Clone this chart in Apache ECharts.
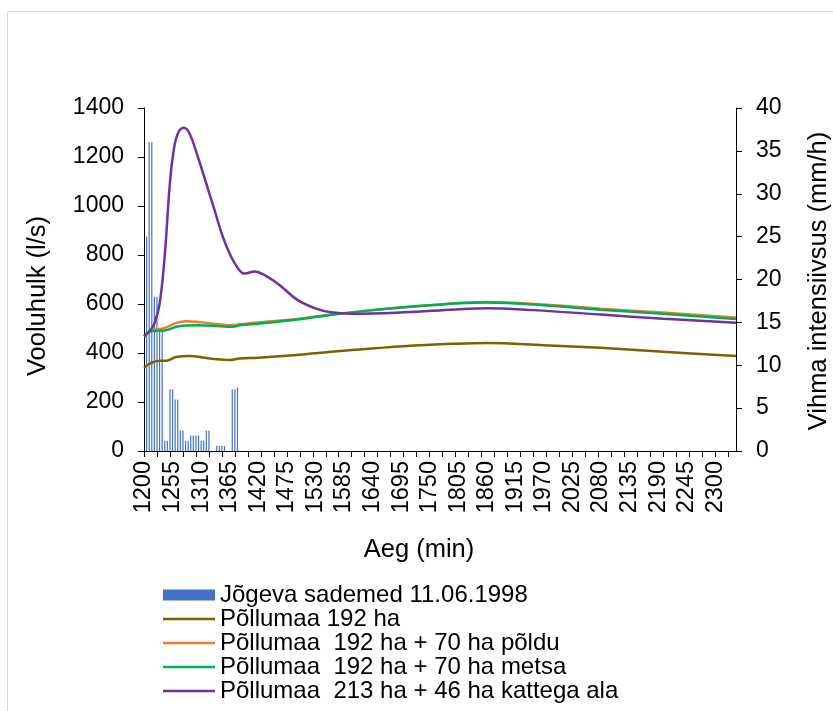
<!DOCTYPE html>
<html>
<head>
<meta charset="utf-8">
<script src="https://cdn.jsdelivr.net/npm/echarts@6/dist/echarts.min.js"></script>
<style>
html,body{margin:0;padding:0;background:#fff;}
#chart{width:833px;height:711px;}
</style>
</head>
<body>
<div id="chart"></div>
<script>
// ---- data ----
var timeStart = 1200, timeEnd = 2340, timeStep = 5;
var categories = [];
for (var t = timeStart; t <= timeEnd; t += timeStep) categories.push(String(t));

// rainfall intensity (mm/h), one value per 5-min category from 1200
var rainfall = [0, 25, 36, 36, 18, 18, 14, 14, 1.2, 1.2, 7.2, 7.2, 6, 6, 2.4, 2.4, 1.2, 1.2,
  1.8, 1.8, 1.8, 1.8, 1.2, 1.2, 2.4, 2.4, 0, 0, 0.6, 0.6, 0.6, 0.6, 0, 0, 7.2, 7.2, 7.4];

// discharge lines (l/s), read at sampled times
var brownTimes  = [1200, 1211, 1230, 1243, 1262, 1288, 1313, 1336, 1365, 1384, 1420, 1500, 1600, 1700, 1800, 1860, 1970, 2079, 2200, 2340];
var brownValues = [340, 357, 368, 368, 384, 388, 382, 375, 371, 378, 381, 393, 412, 428, 438, 441, 432, 421, 405, 388];

var orangeTimes  = [1200, 1210, 1217, 1240, 1262, 1281, 1304, 1346, 1371, 1384, 1423, 1500, 1558, 1640, 1750, 1860, 1970, 2079, 2200, 2340];
var orangeValues = [469, 486, 493, 502, 523, 530, 527, 517, 513, 517, 526, 540, 556, 575, 595, 608, 598, 581, 565, 545];

var greenTimes  = [1200, 1210, 1217, 1240, 1262, 1281, 1304, 1346, 1371, 1384, 1423, 1500, 1558, 1640, 1750, 1860, 1970, 2079, 2200, 2340];
var greenValues = [469, 486, 490, 492, 507, 512, 513, 509, 507, 513, 520, 538, 555, 575, 595, 606, 595, 577, 560, 539];

var purpleTimes  = [1200, 1210, 1220, 1230, 1240, 1249, 1256, 1265, 1277, 1288, 1304, 1320, 1336, 1352, 1368, 1384, 1394, 1413, 1433, 1462, 1494, 1530, 1560, 1600, 1700, 1800, 1860, 1950, 2079, 2200, 2340];
var purpleValues = [469, 487, 520, 600, 800, 1070, 1210, 1295, 1319, 1295, 1199, 1091, 982, 873, 792, 737, 724, 733, 717, 676, 619, 582, 566, 560, 566, 578, 583, 575, 557, 540, 523];

var seriesNames = ['Jõgeva sademed 11.06.1998', 'Põllumaa 192 ha', 'Põllumaa  192 ha + 70 ha põldu', 'Põllumaa  192 ha + 70 ha metsa', 'Põllumaa  213 ha + 46 ha kattega ala'];
var xTitle = 'Aeg (min)';
var yLeftTitle = 'Vooluhulk (l/s)';
var yRightTitle = 'Vihma intensiivsus (mm/h)';

function pairs(ts, vs) { return ts.map(function (t, i) { return [t, vs[i]]; }); }

var FONT = 'Liberation Sans, Arial, sans-serif';
var LINE_ICON = 'path://M0,0H52V2.5H0Z';
var chart = echarts.init(document.getElementById('chart'), null, {renderer: 'canvas'});
function lineSeries(name, ts, vs, color) {
  return {
    name: name, type: 'line', xAxisIndex: 1, yAxisIndex: 0,
    data: pairs(ts, vs), smooth: 0.4, symbol: 'none', showSymbol: false,
    lineStyle: {color: color, width: 2.5}, itemStyle: {color: color},
    animation: false
  };
}
function titleText(text, x, y, rot) {
  return {
    type: 'text', x: x, y: y, rotation: rot, silent: true,
    style: {text: text, fontFamily: FONT, fontSize: 25.5, fill: '#000', align: 'center', verticalAlign: 'middle'}
  };
}
chart.setOption({
  animation: false,
  textStyle: {fontFamily: FONT, color: '#000'},
  graphic: [{
    type: 'rect', shape: {x: 7.5, y: 11.5, width: 900, height: 800},
    style: {fill: 'none', stroke: '#d9d9d9', lineWidth: 1}, silent: true, z: -10
  },
    titleText(xTitle, 419, 550, 0),
    titleText(yLeftTitle, 38, 296, Math.PI / 2),
    titleText(yRightTitle, 819, 281, Math.PI / 2)
  ],
  grid: {left: 144, right: 97, top: 108, bottom: 260, containLabel: false},
  legend: {
    orient: 'vertical', left: 158, top: 578, padding: 5, itemWidth: 52, itemHeight: 11, itemGap: 0,
    symbolKeepAspect: true,
    textStyle: {fontFamily: FONT, fontSize: 24, color: '#000', lineHeight: 22.7},
    data: [
      {name: seriesNames[0], icon: 'rect'},
      {name: seriesNames[1], icon: LINE_ICON},
      {name: seriesNames[2], icon: LINE_ICON},
      {name: seriesNames[3], icon: LINE_ICON},
      {name: seriesNames[4], icon: LINE_ICON}
    ]
  },
  xAxis: [{
    type: 'category', data: categories, boundaryGap: false,
    axisLine: {lineStyle: {color: '#000', width: 1}},
    axisTick: {interval: 4, length: 6, lineStyle: {color: '#000'}},
    axisLabel: {interval: 10, rotate: 90, margin: 10, fontSize: 23.5, color: '#000', fontFamily: FONT},
    splitLine: {show: false}
  }, {
    type: 'value', min: timeStart, max: timeEnd, show: false
  }],
  yAxis: [{
    type: 'value', min: 0, max: 1400, interval: 200, position: 'left',
    axisLine: {show: true, lineStyle: {color: '#000'}},
    axisTick: {show: true, length: 6, lineStyle: {color: '#000'}},
    axisLabel: {margin: 20, fontSize: 23, color: '#000', fontFamily: FONT,
      formatter: function (v) { return String(v); }},
    splitLine: {show: false}
  }, {
    type: 'value', min: 0, max: 40, interval: 5, position: 'right',
    axisLine: {show: true, lineStyle: {color: '#000'}},
    axisTick: {show: true, length: 6, lineStyle: {color: '#000'}},
    axisLabel: {margin: 20, fontSize: 23, color: '#000', fontFamily: FONT,
      formatter: function (v) { return String(v); }},
    splitLine: {show: false}
  }],
  series: [
    {name: seriesNames[0], type: 'bar', xAxisIndex: 0, yAxisIndex: 1, data: rainfall,
     barWidth: 1.2, itemStyle: {color: '#4472C4'}, animation: false},
    lineSeries(seriesNames[1], brownTimes, brownValues, '#7F6000'),
    lineSeries(seriesNames[2], orangeTimes, orangeValues, '#ED7D31'),
    lineSeries(seriesNames[3], greenTimes, greenValues, '#00B050'),
    lineSeries(seriesNames[4], purpleTimes, purpleValues, '#7030A0')
  ]
});
</script>
</body>
</html>
